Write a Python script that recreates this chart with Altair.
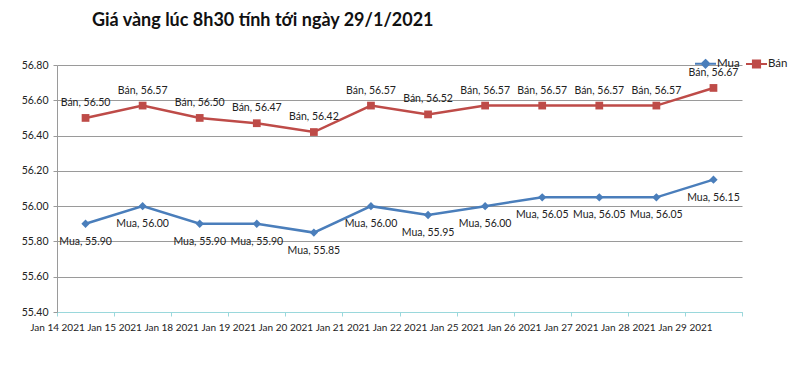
import altair as alt
import pandas as pd

dates = ["Jan 14 2021", "Jan 15 2021", "Jan 18 2021", "Jan 19 2021", "Jan 20 2021",
         "Jan 21 2021", "Jan 22 2021", "Jan 25 2021", "Jan 26 2021", "Jan 27 2021",
         "Jan 28 2021", "Jan 29 2021"]
mua = [55.90, 56.00, 55.90, 55.90, 55.85, 56.00, 55.95, 56.00, 56.05, 56.05, 56.05, 56.15]
ban = [56.50, 56.57, 56.50, 56.47, 56.42, 56.57, 56.52, 56.57, 56.57, 56.57, 56.57, 56.67]
series = ["Mua", "Bán"]
colors = ["#4A7EBB", "#BE4B48"]
y_ticks = [55.4, 55.6, 55.8, 56.0, 56.2, 56.4, 56.6, 56.8]

rows = []
for i, d in enumerate(dates):
    rows.append({"idx": i, "date": d, "series": "Mua", "value": mua[i]})
    rows.append({"idx": i, "date": d, "series": "Bán", "value": ban[i]})
df = pd.DataFrame(rows)

FONT = "Lato"
label_js = "[" + ",".join('"%s"' % d for d in dates) + "]"

base = alt.Chart(df).transform_calculate(
    xpos="datum.idx + 0.5",
    lbl="datum.series + ', ' + format(datum.value, '.2f')"
)

x_enc = alt.X("xpos:Q",
              scale=alt.Scale(domain=[0, len(dates)], nice=False, zero=False),
              axis=alt.Axis(values=list(range(len(dates) + 1)),
                            labelExpr=label_js + "[datum.value] || ''",
                            title=None, grid=False, domainColor="#9AD8DC",
                            tickColor="#9AD8DC", tickSize=4, labelFontSize=10,
                            labelFont=FONT, labelColor="#222", labelPadding=6,
                            labelFlush=False, labelOverlap=False))
y_enc = alt.Y("value:Q",
              scale=alt.Scale(domain=[55.4, 56.8], nice=False, zero=False),
              axis=alt.Axis(values=y_ticks, format=".2f", title=None,
                            gridColor="#9a9a9a", domainColor="#9a9a9a",
                            tickColor="#9a9a9a", tickSize=4, labelFontSize=10.5,
                            labelFont=FONT, labelColor="#222", labelPadding=5))
# color scale for marks (domain listed in reverse so it stays separate from the legend scales)
color_enc = alt.Color("series:N",
                      scale=alt.Scale(domain=series[::-1], range=colors[::-1]),
                      legend=None)

lines = base.mark_line(strokeWidth=2.5).encode(x=x_enc, y=y_enc, color=color_enc,
                                               detail="series:N")
pts_mua = base.transform_filter("datum.series == 'Mua'").mark_point(
    shape="diamond", filled=True, size=70, opacity=1).encode(x=x_enc, y=y_enc, color=color_enc)
pts_ban = base.transform_filter("datum.series == 'Bán'").mark_point(
    shape="square", filled=True, size=60, opacity=1).encode(x=x_enc, y=y_enc, color=color_enc)

txt_ban = base.transform_filter("datum.series == 'Bán'").mark_text(
    dy=-15, fontSize=10.5, font=FONT, color="#222").encode(x=x_enc, y=y_enc, text="lbl:N")
txt_mua = base.transform_filter("datum.series == 'Mua'").mark_text(
    dy=18, fontSize=10.5, font=FONT, color="#222").encode(x=x_enc, y=y_enc, text="lbl:N")

path_mua = "M-1,0H1M0,-0.36L0.36,0L0,0.36L-0.36,0Z"
path_ban = "M-1,0H1M-0.34,-0.34H0.34V0.34H-0.34Z"
leg = alt.Legend(orient="none", legendX=637, legendY=-13, direction="horizontal",
                 symbolSize=441, symbolStrokeWidth=2, symbolOpacity=1,
                 labelFontSize=11.5, labelFont=FONT, labelColor="#222",
                 labelOffset=0, columnPadding=2)
legend_layer = base.mark_point(filled=True, opacity=0).encode(
    x=x_enc, y=y_enc,
    shape=alt.Shape("series:N", scale=alt.Scale(domain=series, range=[path_mua, path_ban]),
                    legend=leg, title=""),
    fill=alt.Fill("series:N", scale=alt.Scale(domain=series, range=colors), legend=leg, title=""),
    stroke=alt.Stroke("series:N", scale=alt.Scale(domain=series, range=colors), legend=leg, title=""),
)

chart = alt.layer(lines, pts_mua, pts_ban, txt_ban, txt_mua, legend_layer).properties(
    width=685, height=247,
    title=alt.TitleParams("Giá vàng lúc 8h30 tính tới ngày 29/1/2021", anchor="start",
                          frame="group", dx=35, offset=22, fontSize=18, font=FONT,
                          fontWeight="bold", color="#111"),
    autosize=alt.AutoSizeParams(type="none"),
    padding={"left": 49, "top": 57, "right": 50, "bottom": 50},
).configure_view(stroke=None)

chart.save("out.html", embed_options={"renderer": "svg", "actions": False})
